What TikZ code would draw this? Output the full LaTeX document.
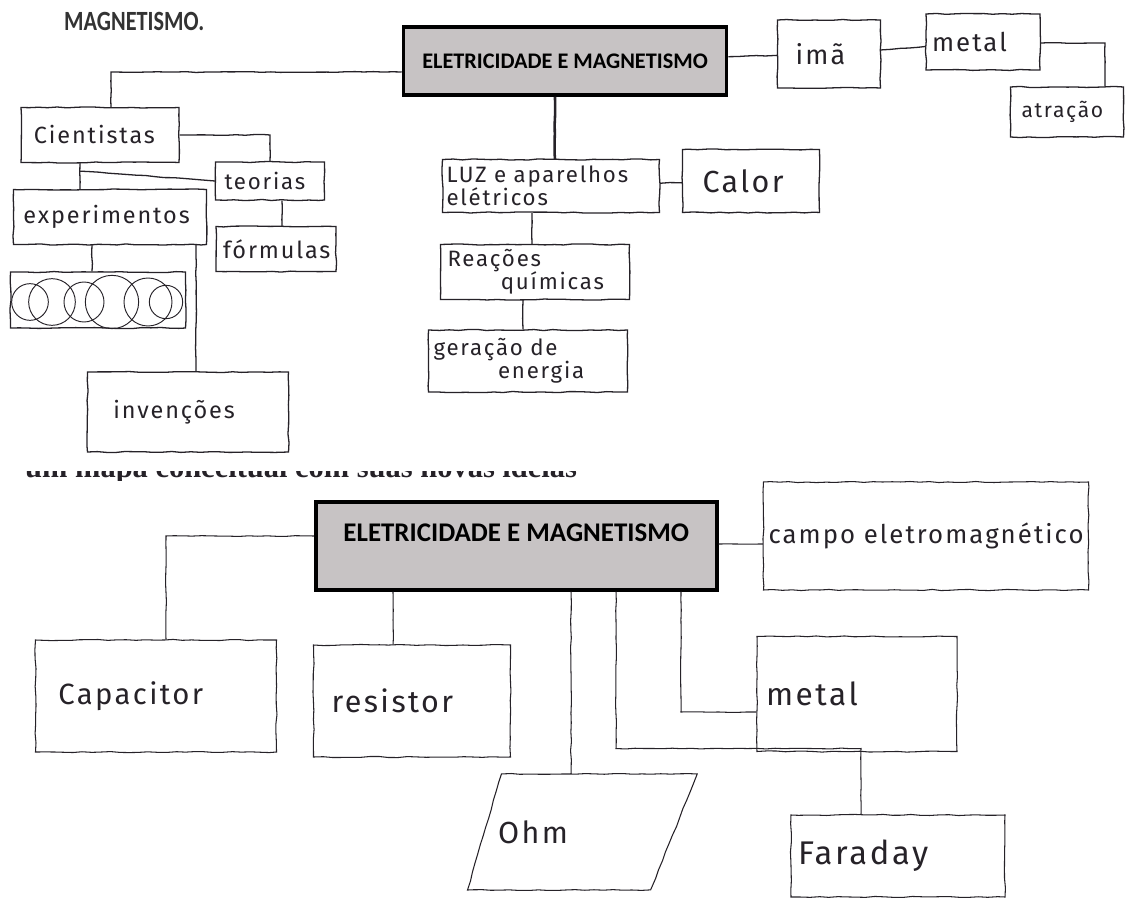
\documentclass[tikz,border=0pt]{standalone}
\usepackage{fontspec}
\setmainfont{Liberation Serif}
\newfontfamily\hand{Fira Sans}[LetterSpace=8]
\newfontfamily\carlito{Carlito}
\usepackage{tikz}
\usetikzlibrary{positioning, decorations.pathmorphing, calc}

\definecolor{ink}{HTML}{262228}
\definecolor{boxgray}{HTML}{C7C3C4}

\tikzset{
  hbox/.style={draw=ink, line width=1.1pt, decorate,
    decoration={random steps, segment length=8pt, amplitude=0.5pt},
    inner sep=2pt, align=left, text=ink,
    font=\hand\fontsize{20}{21}\selectfont},
  hbig/.style={hbox, line width=0.9pt, font=\hand\fontsize{25}{27}\selectfont},
  pad/.style={inner xsep=#1},
  mainbox/.style={draw=black, line width=3pt, fill=boxgray},
  wire/.style={draw=ink, line width=1.1pt, decorate,
    decoration={random steps, segment length=8pt, amplitude=0.4pt}},
  wirethin/.style={wire, line width=0.9pt},
}

\begin{document}
\begin{tikzpicture}[x=0.03cm, y=-0.03cm]
  \useasboundingbox (0,0) rectangle (1126,903);
  \fill[white] (0,0) rectangle (1126,903);
  \pgfmathsetseed{11}

  % ---- first map ----
  \node[anchor=west, inner sep=0, text=black!80,
        font=\carlito\bfseries\fontsize{19}{21}\selectfont] (titulo) at (64,21) {\scalebox{1}[1.25]{MAGNETISMO.}};

  \node[mainbox, minimum width=9.69cm, minimum height=2.04cm,
        font=\carlito\bfseries\fontsize{19}{21}\selectfont] (eletro) at (565,61) {ELETRICIDADE E MAGNETISMO};

  % right branch
  \node[hbox, pad=0.54cm, text width=2.01cm, minimum height=2.04cm,
        font=\hand\fontsize{23}{25}\selectfont] (ima) at (829,54) {imã};
  \node[hbox, pad=0.18cm, text width=3.06cm, minimum height=1.68cm,
        font=\hand\fontsize{22}{24}\selectfont] (metalA) at (983,42) {metal};
  \node[hbox, pad=0.33cm, text width=2.73cm, minimum height=1.5cm,
        font=\hand\fontsize{18}{20}\selectfont] (atracao) at (1067,112) {atração};

  % centre column
  \node[hbox, pad=0.12cm, text width=6.27cm, minimum height=1.59cm,
        font=\hand\fontsize{19}{20}\selectfont] (luz) at (551,186) {LUZ e aparelhos\\elétricos};
  \node[hbox, pad=0.6cm, text width=2.91cm, minimum height=1.89cm,
        font=\hand\fontsize{26}{28}\selectfont] (calor) at (751,181) {Calor};
  \node[hbox, pad=0.21cm, text width=5.25cm, minimum height=1.65cm,
        font=\hand\fontsize{19}{20}\selectfont] (reacoes) at (535,272) {Reações\\\hspace*{2.4em}químicas};
  \node[hbox, pad=0.15cm, text width=5.67cm, minimum height=1.86cm,
        font=\hand\fontsize{19}{20}\selectfont] (geracao) at (528,361) {geração de\\\hspace*{2.9em}energia};

  % left column
  \node[hbox, pad=0.39cm, text width=3.96cm, minimum height=1.65cm] (cient) at (100,135) {Cientistas};
  \node[hbox, pad=0.27cm, text width=2.73cm, minimum height=1.14cm,
        font=\hand\fontsize{19}{20}\selectfont] (teorias) at (270,181) {teorias};
  \node[hbox, pad=0.21cm, text width=3.18cm, minimum height=1.35cm] (formulas) at (276,249) {fórmulas};
  \node[hbox, pad=0.3cm, text width=5.19cm, minimum height=1.65cm] (exper) at (110,217) {experimentos};
  \node[hbox, minimum width=5.25cm, minimum height=1.68cm] (riscado) at (98,300) {};
  \node[hbox, pad=0.78cm, text width=4.47cm, minimum height=2.4cm] (invenc) at (188,412) {invenções};

  % scribbled-out word
  \foreach \cx/\r in {30/0.55, 52/0.7, 84/0.6, 112/0.8, 148/0.72, 166/0.5}
    \draw[ink, line width=0.8pt] (\cx,302) circle[radius=\r cm];

  % links
  \draw[wire] (eletro.west |- 0,72) -| (cient.north -| 111,0);
  \draw[wire] (cient.east) -| (teorias.north);
  \draw[wire] (cient.south -| 80,0) -- (exper.north -| 80,0);
  \path (cient.south -| 80,0) ++(0,8) coordinate (cbranch);
  \draw[wire] (cbranch) -- (teorias.west);
  \draw[wire] (exper.south -| 92,0) -- (riscado.north -| 92,0);
  \draw[wire] (exper.south -| 196,0) -- (invenc.north -| 196,0);
  \draw[wire] (teorias.south -| 282,0) -- (formulas.north -| 282,0);
  \draw[wire, line width=2.2pt] (eletro.south -| 555,0) -- (luz.north -| 555,0);
  \draw[wire] (luz) -- (calor);
  \draw[wire] (luz.south -| 532,0) -- (reacoes.north -| 532,0);
  \draw[wire] (reacoes.south -| 523,0) -- (geracao.north -| 523,0);
  \draw[wire] (eletro) -- (ima);
  \draw[wire] (ima) -- (metalA);
  \draw[wire] (metalA.east |- 0,43) -| (atracao.north -| 1105,0);

  % cropped heading between the two maps
  \begin{scope}
    \clip (0,471) rectangle (1126,480);
    \node[anchor=base west, inner sep=0, text=ink,
          font=\bfseries\fontsize{26}{28}\selectfont] (faixa) at (25,477) {um mapa conceitual com suas novas ideias};
  \end{scope}

  % ---- second map ----
  \node[mainbox, anchor=north west, minimum width=12.03cm, inner ysep=0pt,
        text height=1.2cm, text depth=1.44cm,
        font=\carlito\bfseries\fontsize{23}{25}\selectfont] (eletro2) at (314,500) {ELETRICIDADE E MAGNETISMO};

  \node[hbig, pad=0.15cm, text width=9.45cm, minimum height=3.24cm,
        font=\hand\fontsize{22}{24}\selectfont] (campo) at (926,536) {campo eletromagnético};
  \node[hbig, pad=0.69cm, text width=5.85cm, minimum height=3.36cm] (capac) at (156,696) {Capacitor};
  \node[hbig, pad=0.54cm, text width=4.83cm, minimum height=3.36cm,
        font=\hand\fontsize{26}{28}\selectfont] (resist) at (412,701) {resistor};
  \node[hbig, pad=0.27cm, text width=5.46cm, minimum height=3.45cm,
        font=\hand\fontsize{27}{29}\selectfont] (metalB) at (857,694) {metal};
  \node[hbig, draw=none, pad=0.54cm, text width=4.92cm, minimum height=3.45cm,
        font=\hand\fontsize{26}{28}\selectfont] (ohm) at (580,832) {Ohm};
  \node[hbig, pad=0.21cm, text width=6.0cm, minimum height=2.46cm,
        font=\hand\fontsize{28}{30}\selectfont] (faraday) at (898,856) {Faraday};

  % slanted frame round Ohm
  \draw[wirethin] ([xshift=0.66cm]ohm.north west) -- ([xshift=0.5cm]ohm.north east)
    -- ([xshift=-0.9cm]ohm.south east) -- ([xshift=-0.36cm]ohm.south west) -- cycle;

  \draw[wirethin] (eletro2.west |- 0,536) -| (capac.north -| 166,0);
  \draw[wirethin] (eletro2.south -| 393,0) -- (resist.north -| 393,0);
  \draw[wirethin] (eletro2.south -| 571,0) -- (ohm.north -| 571,0);
  \draw[wirethin] (eletro2.south -| 616,0) -- ++(0,157) -| (faraday.north -| 861,0);
  \draw[wirethin] (eletro2.south -| 681,0) |- (metalB.west |- 0,712);
  \draw[wirethin] (eletro2.east |- 0,544) -- (campo.west |- 0,544);
\end{tikzpicture}
\end{document}
